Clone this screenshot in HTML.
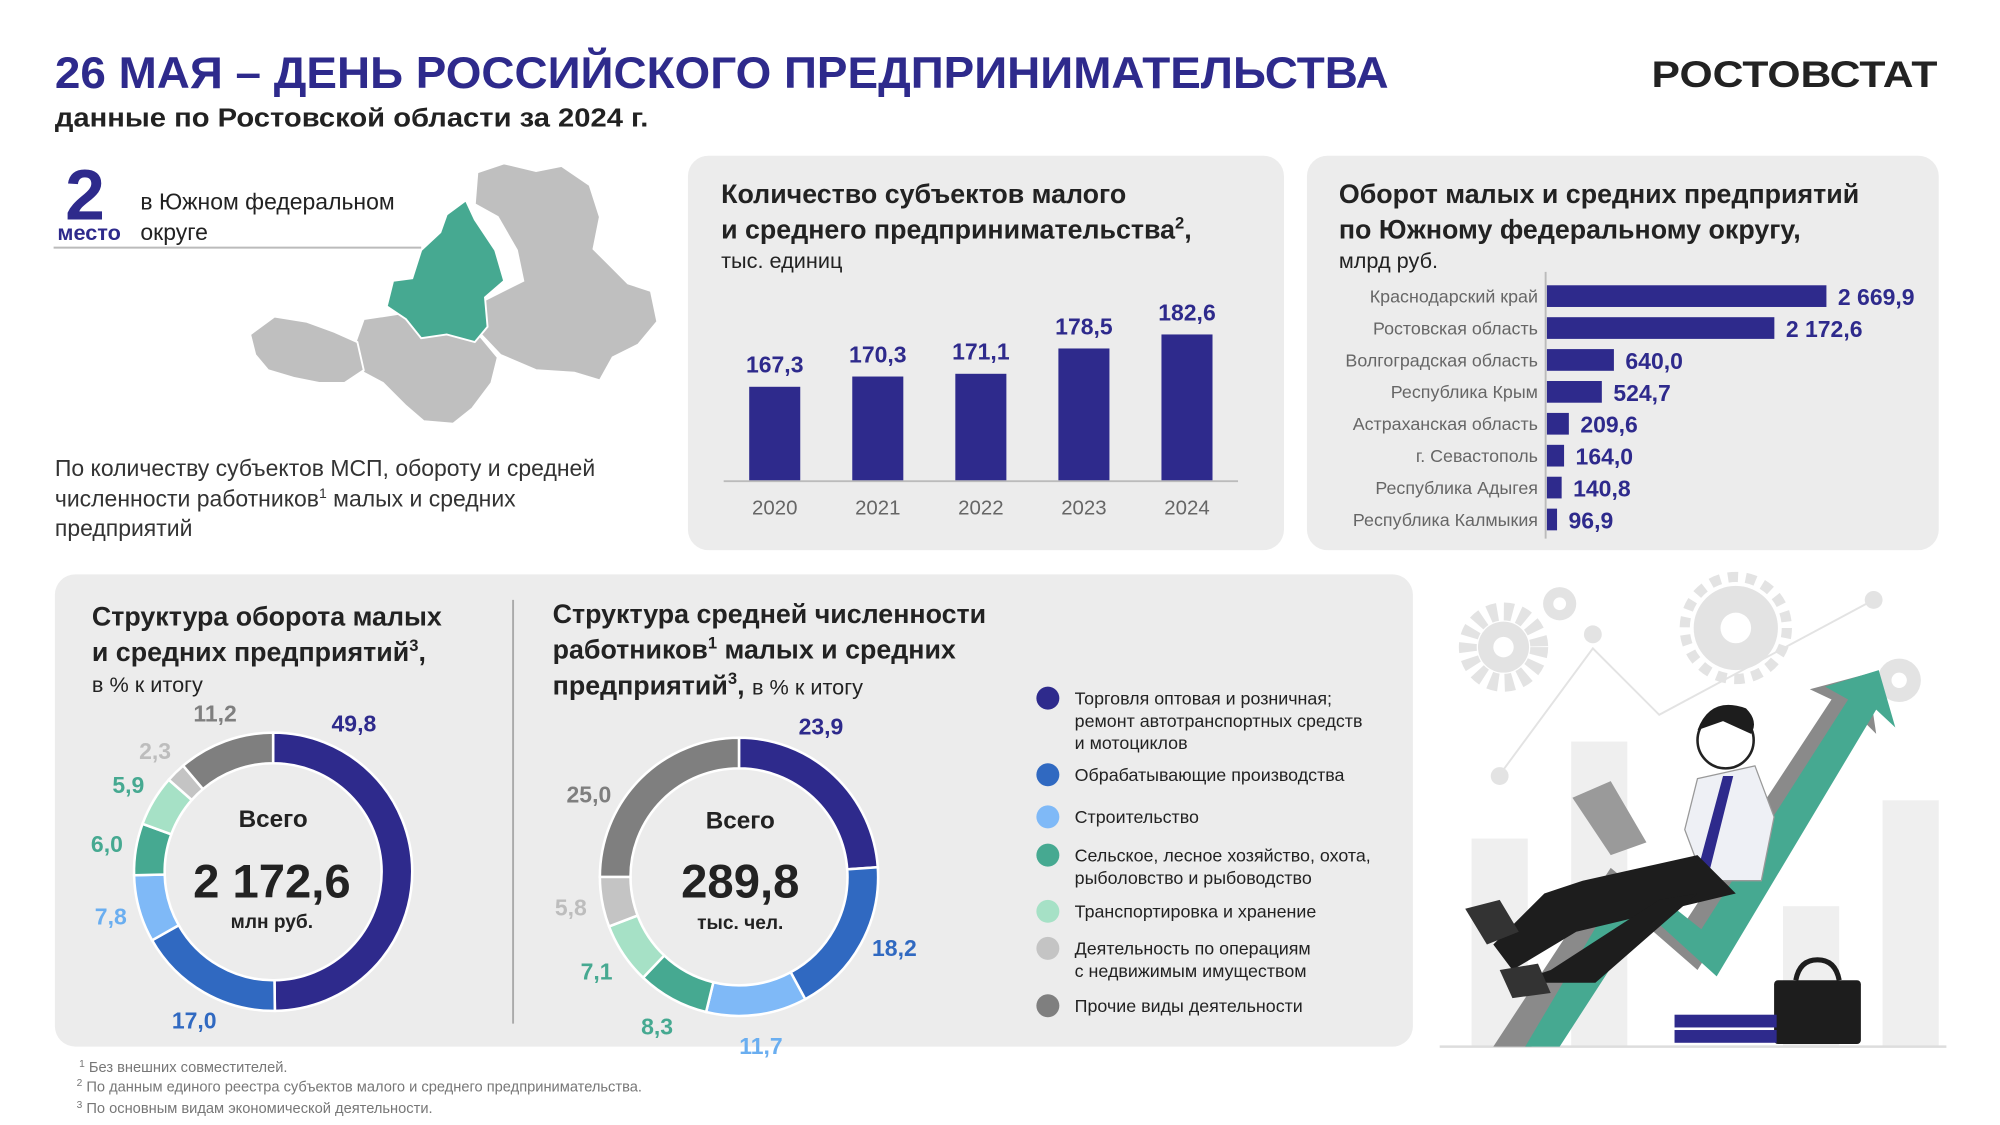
<!DOCTYPE html>
<html><head><meta charset="utf-8">
<style>
html,body{margin:0;padding:0;background:#fff;}
svg{display:block;font-family:"Liberation Sans","DejaVu Sans",sans-serif;}
</style></head>
<body>
<svg id="root" width="2000" height="1125" viewBox="0 0 1567 881.4" xmlns="http://www.w3.org/2000/svg">
<rect width="1567" height="882" fill="#fff"/>
<!-- header -->
<text x="43" y="69" font-size="35" font-weight="bold" fill="#2e2a8c" textLength="1045" lengthAdjust="spacingAndGlyphs">26 МАЯ – ДЕНЬ РОССИЙСКОГО ПРЕДПРИНИМАТЕЛЬСТВА</text>
<text x="43" y="99" font-size="20" font-weight="bold" fill="#222" textLength="465" lengthAdjust="spacingAndGlyphs">данные по Ростовской области за 2024 г.</text>
<text x="1294" y="68" font-size="29" font-weight="bold" fill="#222" textLength="224" lengthAdjust="spacingAndGlyphs">РОСТОВСТАТ</text>

<!-- left block -->
<text x="51" y="172" font-size="56" font-weight="bold" fill="#2e2a8c">2</text>
<text x="45" y="188" font-size="17" font-weight="bold" fill="#2e2a8c">место</text>
<text font-size="18" fill="#222"><tspan x="110" y="164">в Южном федеральном</tspan><tspan x="110" y="188">округе</tspan></text>
<line x1="42" y1="194" x2="330" y2="194" stroke="#bbb" stroke-width="1.5"/>
<g>
<path fill="#bfbfbf" stroke="#fff" stroke-width="1.5" d="M374,135 L395,128 L420,134 L440,130 L462,145 L470,170 L465,195 L478,208 L492,222 L510,228 L515,252 L500,270 L480,280 L470,298 L450,292 L420,290 L392,278 L375,260 L380,235 L410,220 L405,196 L390,170 L372,160 Z"/>
<path fill="#bfbfbf" stroke="#fff" stroke-width="1.5" d="M285,250 L318,245 L345,262 L375,262 L390,280 L385,300 L370,320 L355,332 L332,330 L318,318 L300,300 L285,292 L275,278 Z"/>
<path fill="#bfbfbf" stroke="#fff" stroke-width="1.5" d="M196,262 L215,248 L240,252 L262,260 L280,268 L285,290 L270,300 L250,300 L230,296 L210,290 L200,278 Z"/>
<path fill="#46a991" stroke="#fff" stroke-width="1.5" d="M365,157 L372,172 L388,196 L395,220 L380,233 L382,256 L372,268 L350,262 L330,265 L318,250 L303,240 L308,220 L323,218 L330,196 L345,182 L350,168 Z"/>
</g>
<text font-size="18" fill="#333"><tspan x="43" y="373">По количеству субъектов МСП, обороту и средней</tspan><tspan x="43" y="397">численности работников<tspan font-size="11" dy="-7">1</tspan><tspan dy="7"> малых и средних</tspan></tspan><tspan x="43" y="420">предприятий</tspan></text>

<!-- panel 2 -->
<rect x="539" y="122" width="467" height="309" rx="16" fill="#ececec"/>
<text font-size="21" font-weight="bold" fill="#222"><tspan x="565" y="159">Количество субъектов малого</tspan><tspan x="565" y="187">и среднего предпринимательства<tspan font-size="13" dy="-8">2</tspan><tspan dy="8">,</tspan></tspan></text>
<text x="565" y="210" font-size="17" fill="#222">тыс. единиц</text>
<g id="barChart"></g>

<!-- panel 3 -->
<rect x="1024" y="122" width="495" height="309" rx="16" fill="#ececec"/>
<text font-size="21" font-weight="bold" fill="#222"><tspan x="1049" y="159">Оборот малых и средних предприятий</tspan><tspan x="1049" y="187">по Южному федеральному округу,</tspan></text>
<text x="1049" y="210" font-size="17" fill="#222">млрд руб.</text>
<g id="hbarChart"></g>

<!-- bottom panel -->
<rect x="43" y="450" width="1064" height="370" rx="16" fill="#ececec"/>
<line x1="402" y1="470" x2="402" y2="802" stroke="#aaa" stroke-width="1.5"/>
<text font-size="21" font-weight="bold" fill="#222"><tspan x="72" y="490">Структура оборота малых</tspan><tspan x="72" y="518">и средних предприятий<tspan font-size="13" dy="-8">3</tspan><tspan dy="8">,</tspan></tspan></text>
<text x="72" y="542" font-size="17" fill="#222">в % к итогу</text>
<text font-size="21" font-weight="bold" fill="#222"><tspan x="433" y="488">Структура средней численности</tspan><tspan x="433" y="516">работников<tspan font-size="13" dy="-8">1</tspan><tspan dy="8"> малых и средних</tspan></tspan><tspan x="433" y="544">предприятий<tspan font-size="13" dy="-8">3</tspan><tspan dy="8">, </tspan><tspan font-weight="normal" font-size="17">в % к итогу</tspan></tspan></text>
<g id="donut1"></g>
<g id="donut2"></g>
<text x="214" y="648" font-size="19" font-weight="bold" text-anchor="middle" fill="#222">Всего</text>
<text x="213" y="703" font-size="37" font-weight="bold" text-anchor="middle" fill="#222">2 172,6</text>
<text x="213" y="727" font-size="15" font-weight="bold" text-anchor="middle" fill="#222">млн руб.</text>
<text x="580" y="649" font-size="19" font-weight="bold" text-anchor="middle" fill="#222">Всего</text>
<text x="580" y="703" font-size="37" font-weight="bold" text-anchor="middle" fill="#222">289,8</text>
<text x="580" y="728" font-size="15" font-weight="bold" text-anchor="middle" fill="#222">тыс. чел.</text>
<g id="legend" font-size="14" fill="#222"></g>

<!-- illustration -->
<g>
<rect x="1153" y="657" width="44" height="163" fill="#efefef"/>
<rect x="1231" y="581" width="44" height="239" fill="#efefef"/>
<rect x="1397" y="710" width="44" height="110" fill="#efefef"/>
<rect x="1475" y="627" width="44" height="193" fill="#efefef"/>
<line x1="1128" y1="820" x2="1525" y2="820" stroke="#ddd" stroke-width="2"/>
<polyline points="1175,607 1248,508 1300,560 1468,470" fill="none" stroke="#e3e3e3" stroke-width="1.5"/>
<circle cx="1175" cy="608" r="7" fill="#e3e3e3"/><circle cx="1248" cy="497" r="7" fill="#e3e3e3"/><circle cx="1468" cy="470" r="7" fill="#e3e3e3"/>
<circle cx="1178" cy="507" r="28" fill="none" stroke="#e3e3e3" stroke-width="14" stroke-dasharray="7 5"/><circle cx="1178" cy="507" r="20" fill="#e3e3e3"/><circle cx="1178" cy="507" r="8" fill="#fff"/>
<circle cx="1360" cy="492" r="33" fill="#e3e3e3"/><circle cx="1360" cy="492" r="40" fill="none" stroke="#e3e3e3" stroke-width="8" stroke-dasharray="8 6"/><circle cx="1360" cy="492" r="12" fill="#fff"/>
<circle cx="1222" cy="473" r="13" fill="#e3e3e3"/><circle cx="1222" cy="473" r="5" fill="#fff"/>
<circle cx="1488" cy="533" r="17" fill="#e3e3e3"/><circle cx="1488" cy="533" r="6" fill="#fff"/>
<polygon points="1170,820 1200,820 1275,712 1330,760 1455,560 1470,575 1463,528 1418,540 1435,548 1318,726 1262,680" fill="#8a8a8a"/>
<polygon points="1195,820 1222,820 1290,715 1345,765 1470,556 1485,570 1472,525 1430,538 1448,548 1333,728 1276,683" fill="#46a991"/>
<rect x="1390" y="768" width="68" height="50" rx="3" fill="#1d1d1d"/>
<path d="M1407,768 Q1410,752 1424,752 Q1438,752 1441,768" fill="none" stroke="#1d1d1d" stroke-width="4"/>
<rect x="1312" y="795" width="80" height="10" fill="#2e2a8c"/><rect x="1312" y="807" width="80" height="10" fill="#2e2a8c"/>
<circle cx="1352" cy="580" r="22" fill="#fff" stroke="#222" stroke-width="2"/>
<path d="M1330,572 Q1340,545 1368,555 Q1378,565 1372,575 L1350,565 Z" fill="#1d1d1d"/>
<polygon points="1330,610 1375,600 1390,640 1380,690 1335,690 1320,650" fill="#eef0f5" stroke="#999"/>
<polygon points="1350,608 1358,608 1340,680 1332,675" fill="#2e2a8c"/>
<polygon points="1240,690 1330,670 1360,700 1235,730 1185,760 1170,740 1210,700" fill="#1d1d1d"/>
<polygon points="1215,760 1300,705 1330,700 1250,770 1185,770" fill="#1d1d1d"/>
<polygon points="1232,625 1262,612 1290,660 1262,670" fill="#9a9a9a"/>
<polygon points="1148,712 1175,705 1190,730 1165,740" fill="#333"/>
<polygon points="1175,760 1205,755 1215,778 1185,782" fill="#333"/>
</g>

<text font-size="11.5" fill="#777"><tspan x="62" y="840"><tspan font-size="8" dy="-4">1</tspan><tspan dy="4"> Без внешних совместителей.</tspan></tspan><tspan x="60" y="855"><tspan font-size="8" dy="-4">2</tspan><tspan dy="4"> По данным единого реестра субъектов малого и среднего предпринимательства.</tspan></tspan><tspan x="60" y="872"><tspan font-size="8" dy="-4">3</tspan><tspan dy="4"> По основным видам экономической деятельности.</tspan></tspan></text>
</svg>
<script>
const NS="http://www.w3.org/2000/svg";
// bar chart data
const years=["2020","2021","2022","2023","2024"];
const smbCounts=[167.3,170.3,171.1,178.5,182.6];
const smbLabels=["167,3","170,3","171,1","178,5","182,6"];
// horizontal bars
const regions=["Краснодарский край","Ростовская область","Волгоградская область","Республика Крым","Астраханская область","г. Севастополь","Республика Адыгея","Республика Калмыкия"];
const turnover=[2669.9,2172.6,640.0,524.7,209.6,164.0,140.8,96.9];
const turnoverLabels=["2 669,9","2 172,6","640,0","524,7","209,6","164,0","140,8","96,9"];
// donuts
const turnoverShares=[49.8,17.0,7.8,6.0,5.9,2.3,11.2];
const turnoverShareLabels=["49,8","17,0","7,8","6,0","5,9","2,3","11,2"];
const employeeShares=[23.9,18.2,11.7,8.3,7.1,5.8,25.0];
const employeeShareLabels=["23,9","18,2","11,7","8,3","7,1","5,8","25,0"];
const activities=["Торговля оптовая и розничная;|ремонт автотранспортных средств|и мотоциклов","Обрабатывающие производства","Строительство","Сельское, лесное хозяйство, охота,|рыболовство и рыбоводство","Транспортировка и хранение","Деятельность по операциям|с недвижимым имуществом","Прочие виды деятельности"];
const colors=["#2e2a8c","#3069c1","#7fb9f7","#46a991","#a6e1c6","#c4c4c4","#7f7f7f"];
const labelColors=["#2e2a8c","#3069c1","#6aaef0","#46a991","#46a991","#bdbdbd","#7f7f7f"];

function el(tag,attrs,parent){const e=document.createElementNS(NS,tag);for(const k in attrs)e.setAttribute(k,attrs[k]);parent.appendChild(e);return e;}

// vertical bar chart
(function(){
 const g=document.getElementById('barChart');
 const base=377, vmin=139.7, k=2.68;
 const y=v=>base-(v-vmin)*k;
 const x=i=>607+i*80.75;
 years.forEach((yr,i)=>{
  const r=el('rect',{x:x(i)-20,y:y(smbCounts[i]),width:40,height:base-y(smbCounts[i]),fill:'#2e2a8c'},g);
  
  
  const t=el('text',{x:x(i),y:y(smbCounts[i])-11,'text-anchor':'middle','font-size':18,'font-weight':'bold',fill:'#2e2a8c'},g);t.textContent=smbLabels[i];
  
  
  const l=el('text',{x:x(i),y:403,'text-anchor':'middle','font-size':16,fill:'#666'},g);l.textContent=yr;
  
  
 });
 const ax=el('line',{x1:567,y1:base,x2:970,y2:base,stroke:'#bbb','stroke-width':1.5},g);
 
 
})();

// horizontal bar chart
(function(){
 const g=document.getElementById('hbarChart');
 const x0=1211,k=219/2669.9;
 const axl=el('line',{x1:x0,y1:213,x2:x0,y2:422,stroke:'#bbb','stroke-width':1.5},g);
 
 
 regions.forEach((r,i)=>{
  const cy=232+i*25;
  const b=el('rect',{x:x0+1,y:cy-8.5,width:turnover[i]*k,height:17,fill:'#2e2a8c'},g);
  
  
  const t=el('text',{x:x0-6,y:cy+5,'text-anchor':'end','font-size':14,fill:'#666'},g);t.textContent=r;
  
  
  const v=el('text',{x:x0+turnover[i]*k+10,y:cy+7,'font-size':18,'font-weight':'bold',fill:'#2e2a8c'},g);v.textContent=turnoverLabels[i];
  
  
 });
})();

function donut(id,cx,cy,vals,labels,rl){
 const g=document.getElementById(id);
 const Ro=109,Ri=85;const tot=vals.reduce((a,b)=>a+b,0);
 let a=0;
 vals.forEach((v,i)=>{
  const a0=a/tot*2*Math.PI,a1=(a+v)/tot*2*Math.PI;a+=v;
  const p=(r,t)=>[cx+r*Math.sin(t),cy-r*Math.cos(t)];
  const lg=(a1-a0)>Math.PI?1:0;
  const [x1,y1]=p(Ro,a0),[x2,y2]=p(Ro,a1),[x3,y3]=p(Ri,a1),[x4,y4]=p(Ri,a0);
  const s=el('path',{d:`M${x1},${y1}A${Ro},${Ro} 0 ${lg} 1 ${x2},${y2}L${x3},${y3}A${Ri},${Ri} 0 ${lg} 0 ${x4},${y4}Z`,fill:colors[i],stroke:'#fff','stroke-width':2},g);
  
  
  const am=a0+Math.min((a1-a0)/2,0.5);
  const [lx,ly]=p(rl,am);
  const t=el('text',{x:lx,y:ly+6,'text-anchor':'middle','font-size':18,'font-weight':'bold',fill:labelColors[i]},g);t.textContent=labels[i];
  
  
 });
}
donut('donut1',214,683,turnoverShares,turnoverShareLabels,132);
donut('donut2',579,687,employeeShares,employeeShareLabels,134);

// legend
(function(){
 const g=document.getElementById('legend');
 const ys=[547,607,640,670,714,743,788];
 activities.forEach((txt,i)=>{
  const c=el('circle',{cx:821,cy:ys[i],r:9,fill:colors[i]},g);
  
  
  const t=el('text',{x:842,y:ys[i]+5},g);
  
  
  txt.split('|').forEach((ln,j)=>{const s=el('tspan',{x:842,dy:j?17.5:0},t);s.textContent=ln;});
 });
})();
</script>
</body></html>
